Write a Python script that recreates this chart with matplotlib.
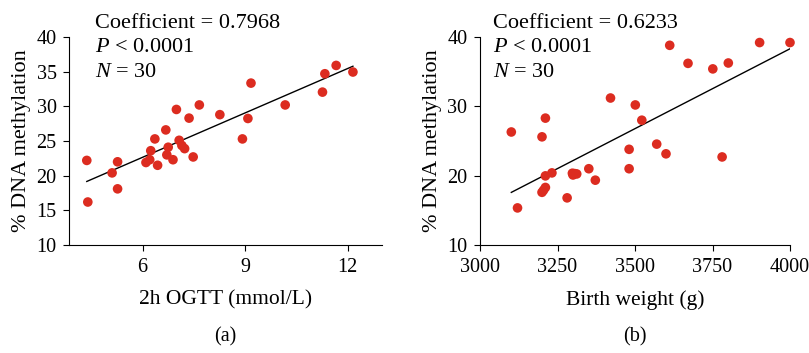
import numpy as np
import matplotlib
matplotlib.use("Agg")
import matplotlib.pyplot as plt

plt.rcParams["font.family"] = ["Liberation Serif", "DejaVu Serif"]
plt.rcParams["mathtext.fontset"] = "custom"
plt.rcParams["mathtext.rm"] = "Liberation Serif"
plt.rcParams["mathtext.it"] = "Liberation Serif:italic"

# panel (a): 2h OGTT vs DNA methylation
ogtt = [4.37, 4.40, 5.11, 5.27, 5.27, 6.10, 6.21, 6.24, 6.36, 6.44,
        6.68, 6.71, 6.75, 6.89, 6.99, 7.07, 7.15, 7.23, 7.36, 7.48,
        7.66, 8.26, 8.92, 9.08, 9.17, 10.17, 11.26, 11.33, 11.66, 12.15]
meth_a = [22.2, 16.2, 20.4, 22.0, 18.1, 21.9, 22.3, 23.6, 25.3, 21.5,
          26.6, 23.0, 24.1, 22.3, 29.55, 25.1, 24.35, 23.9, 28.3, 22.7,
          30.2, 28.8, 25.3, 28.25, 33.35, 30.2, 32.05, 34.7, 35.9, 34.95]

# panel (b): birth weight vs DNA methylation
bw = [3101, 3121, 3200, 3200, 3205, 3211, 3211, 3211, 3232, 3281,
      3298, 3300, 3305, 3312, 3351, 3372, 3421, 3481, 3481, 3501,
      3522, 3570, 3600, 3612, 3671, 3751, 3781, 3801, 3902, 4000]
meth_b = [26.3, 15.35, 25.6, 17.6, 17.9, 28.3, 19.97, 18.3, 20.4, 16.8,
          20.35, 20.1, 20.3, 20.25, 21.0, 19.35, 31.2, 23.8, 21.0, 30.2,
          28.0, 24.55, 23.15, 38.8, 36.2, 35.4, 22.7, 36.25, 39.2, 39.2]

stats_a = ["Coefficient = 0.7968", "$\\it{P}$ < 0.0001", "$\\it{N}$ = 30"]
stats_b = ["Coefficient = 0.6233", "$\\it{P}$ < 0.0001", "$\\it{N}$ = 30"]

red = "#dc2c20"

fig = plt.figure(figsize=(8.09, 3.53), dpi=100)
W, H = 809, 353
ax1 = fig.add_axes([69 / W, 1 - 245 / H, (382 - 69) / W, (245 - 37) / H])
ax2 = fig.add_axes([480 / W, 1 - 245 / H, (790 - 480) / W, (245 - 37) / H])

panels = [
    (ax1, ogtt, meth_a, stats_a, "2h OGTT (mmol/L)", "(a)", (3.85, 13.0),
     [6, 9, 12], range(10, 41, 5), 0.083),
    (ax2, bw, meth_b, stats_b, "Birth weight (g)", "(b)", (3000, 4000),
     [3000, 3250, 3500, 3750, 4000], range(10, 41, 10), 0.042),
]

for ax, x, y, stats, xlabel, tag, xlim, xticks, yticks, tx in panels:
    x = np.array(x)
    y = np.array(y)
    ax.scatter(x, y, s=48, color=red, edgecolors="none", zorder=3, clip_on=False)
    k, b = np.polyfit(x, y, 1)
    xs = np.array([x.min(), x.max()])
    ax.plot(xs, k * xs + b, color="black", linewidth=1.0, zorder=2)

    ax.set_xlim(*xlim)
    ax.set_ylim(10, 40)
    ax.set_xticks(xticks)
    ax.set_yticks(yticks)
    ax.spines["top"].set_visible(False)
    ax.spines["right"].set_visible(False)
    ax.tick_params(labelsize=14.5, length=4, width=0.8, pad=5)
    ax.set_xlabel(xlabel, fontsize=15.5, labelpad=10)
    ax.set_ylabel("% DNA methylation", fontsize=16, labelpad=4)

    for i, s in enumerate(stats):
        ax.text(tx, 1.067 - i * 0.118, s, transform=ax.transAxes, fontsize=16,
                va="center", ha="left")
    ax.text(0.5, -0.44, tag, transform=ax.transAxes, fontsize=14.5,
            ha="center", va="center")

fig.savefig("out.png", dpi=100)
